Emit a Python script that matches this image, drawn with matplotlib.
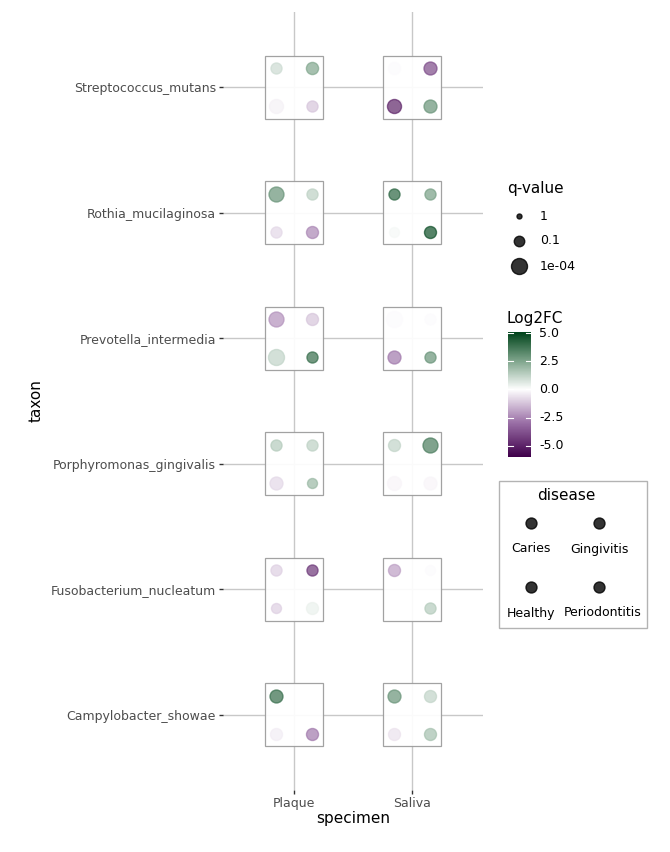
import numpy as np
import matplotlib
matplotlib.use('Agg')
import matplotlib.pyplot as plt
from matplotlib.colors import LinearSegmentedColormap, Normalize
from matplotlib.patches import Rectangle

# ---------- datos ----------
taxa = ['Campylobacter_showae', 'Fusobacterium_nucleatum', 'Porphyromonas_gingivalis',
        'Prevotella_intermedia', 'Rothia_mucilaginosa', 'Streptococcus_mutans']
specimens = ['Plaque', 'Saliva']
diseases = ['Caries', 'Gingivitis', 'Healthy', 'Periodontitis']

# log2FC[taxon][specimen] -> [Caries, Gingivitis, Healthy, Periodontitis]
log2fc = {
    'Streptococcus_mutans':     {'Plaque': [1.0, 2.5, -0.3, -1.2], 'Saliva': [-0.1, -4.0, -5.0, 3.0]},
    'Rothia_mucilaginosa':      {'Plaque': [3.0, 1.3, -0.8, -2.5], 'Saliva': [4.2, 2.7, 0.2, 4.8]},
    'Prevotella_intermedia':    {'Plaque': [-2.3, -1.2, 1.2, 4.0], 'Saliva': [-0.1, -0.1, -2.8, 3.0]},
    'Porphyromonas_gingivalis': {'Plaque': [1.5, 1.3, -0.8, 2.0], 'Saliva': [1.2, 3.6, -0.2, -0.2]},
    'Fusobacterium_nucleatum':  {'Plaque': [-1.0, -4.5, -1.0, 0.4], 'Saliva': [-2.0, -0.1, 0.0, 1.5]},
    'Campylobacter_showae':     {'Plaque': [4.0, np.nan, -0.4, -2.8], 'Saliva': [3.0, 1.2, -0.6, 1.8]},
}
qvalue = {
    'Streptococcus_mutans':     {'Plaque': [0.06, 0.02, 0.002, 0.06], 'Saliva': [0.02, 0.008, 0.002, 0.008]},
    'Rothia_mucilaginosa':      {'Plaque': [0.0005, 0.06, 0.06, 0.024], 'Saliva': [0.06, 0.06, 0.15, 0.024]},
    'Prevotella_intermedia':    {'Plaque': [0.0005, 0.024, 0.0001, 0.06], 'Saliva': [0.0001, 0.06, 0.008, 0.06]},
    'Porphyromonas_gingivalis': {'Plaque': [0.06, 0.06, 0.008, 0.15], 'Saliva': [0.024, 0.0005, 0.002, 0.008]},
    'Fusobacterium_nucleatum':  {'Plaque': [0.06, 0.06, 0.15, 0.024], 'Saliva': [0.024, 0.15, 0.0005, 0.06]},
    'Campylobacter_showae':     {'Plaque': [0.008, np.nan, 0.024, 0.024], 'Saliva': [0.008, 0.024, 0.024, 0.024]},
}
q_breaks = [1, 0.1, 1e-4]
q_labels = ['1', '0.1', '1e-04']
fc_ticks = [5.0, 2.5, 0.0, -2.5, -5.0]
fc_min, fc_max = -6.0, 5.1

# ---------- escalas ----------
W, H, DPI = 670, 852, 100
px = 72.0 / DPI  # puntos por pixel

def size_of(q):
    d = 5 + 5.5 * np.sqrt(-np.log10(q))   # diametro en px
    return (d * px) ** 2

mid = (0 - fc_min) / (fc_max - fc_min)
cmap = LinearSegmentedColormap.from_list('pg', [
    (0.0, '#40004b'), (mid * 0.5, '#9a6fa6'), (mid, '#ffffff'),
    (mid + (1 - mid) * 0.5, '#7fa58c'), (1.0, '#00441b')])
norm = Normalize(vmin=fc_min, vmax=fc_max)

# offsets: Caries arriba-izq, Gingivitis arriba-der, Healthy abajo-izq, Periodontitis abajo-der
dx = [-0.15, 0.15, -0.15, 0.15]
dy = [0.15, 0.15, -0.15, -0.15]

fig = plt.figure(figsize=(W / DPI, H / DPI), dpi=DPI)
ax = fig.add_axes([223 / W, 1 - 790 / H, 260 / W, 778 / H])
ax.set_xlim(0.4, 2.6)
ax.set_ylim(0.4, 6.6)
ax.set_xticks([1, 2])
ax.set_xticklabels(specimens)
ax.set_yticks(range(1, 7))
ax.set_yticklabels(taxa)
for s in ax.spines.values():
    s.set_visible(False)
ax.tick_params(colors='#333333', labelcolor='#4d4d4d', labelsize=9, length=3, width=1, pad=2)
ax.grid(True, color='#c8c8c8', lw=1)
ax.set_axisbelow(True)
ax.set_xlabel('specimen', fontsize=11, labelpad=1)
ax.set_ylabel('taxon', fontsize=11, labelpad=5)

for ti, t in enumerate(taxa):
    for si, sp in enumerate(specimens):
        x0, y0 = si + 1, ti + 1
        ax.add_patch(Rectangle((x0 - 0.245, y0 - 0.25), 0.49, 0.5, facecolor='white',
                               edgecolor='#9a9a9a', lw=0.9, alpha=0.92, zorder=2))
        for k in range(4):
            v = log2fc[t][sp][k]
            q = qvalue[t][sp][k]
            if np.isnan(v):
                continue
            c = cmap(norm(v))
            ax.scatter(x0 + dx[k], y0 + dy[k], s=size_of(q), color=c, alpha=0.7,
                       edgecolors=[c], linewidths=1.0, zorder=3)

# ---------- leyenda q-value ----------
lg = fig.add_axes([0, 0, 1, 1])
lg.set_xlim(0, W)
lg.set_ylim(H, 0)
lg.axis('off')
lg.text(507, 188, 'q-value', fontsize=11, va='center', ha='left')
for q, lab, y in zip(q_breaks, q_labels, [216, 241, 266]):
    lg.scatter(519, y, s=size_of(q), color='black', alpha=0.8, edgecolors='black', linewidths=1)
    lg.text(540, y, lab, fontsize=9, va='center', ha='left')

# ---------- barra de color ----------
lg.text(507, 318, 'Log2FC', fontsize=11, va='center', ha='left')
cax = fig.add_axes([508 / W, 1 - 457 / H, 23 / W, 125 / H])
grad = np.linspace(fc_min, fc_max, 300).reshape(-1, 1)
cax.imshow(grad, aspect='auto', origin='lower', cmap=cmap, norm=norm,
           extent=[0, 1, fc_min, fc_max])
cax.set_xlim(0, 1)
cax.set_ylim(fc_min, fc_max)
cax.axis('off')
for v in fc_ticks:
    cax.plot([0, 0.2], [v, v], color='white', lw=0.8)
    cax.plot([0.8, 1], [v, v], color='white', lw=0.8)
    cax.text(1.35, v, f'{v:.1f}', fontsize=9, va='center', ha='left')

# ---------- leyenda disease ----------
lg.add_patch(Rectangle((499, 481), 148, 147, facecolor='white', edgecolor='#b3b3b3', lw=1))
lg.text(566, 496, 'disease', fontsize=11, va='center', ha='center')
for lab, x, y in zip(diseases, [531, 599, 531, 599], [523, 523, 587, 587]):
    lg.scatter(x, y, s=(11 * px) ** 2, color='black', alpha=0.8, edgecolors='black', linewidths=1)
    lg.text(x + (4 if lab == 'Periodontitis' else 0), y + 26, lab, fontsize=9, va='center', ha='center')

plt.savefig('out.png', dpi=DPI)
